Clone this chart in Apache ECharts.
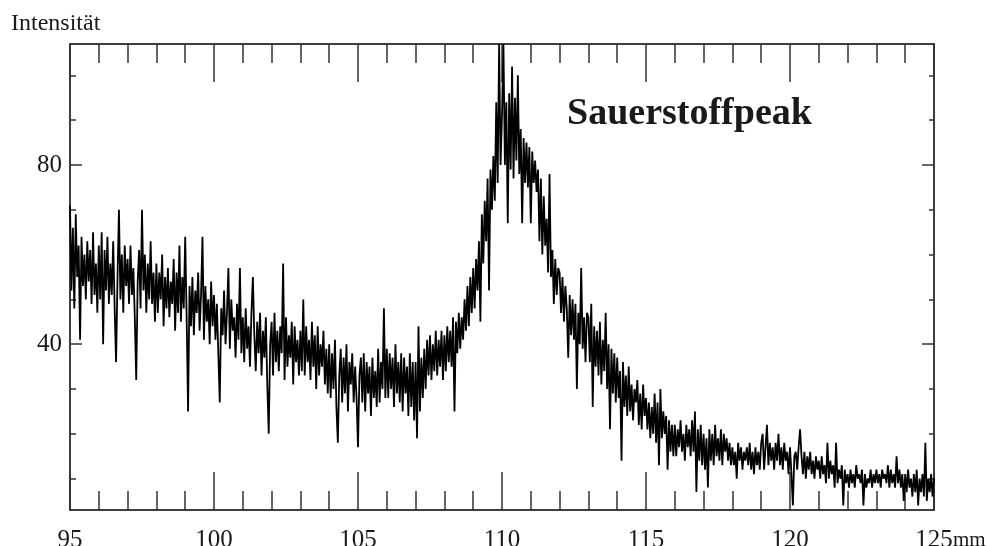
<!DOCTYPE html>
<html style="height: 100%">
<head>
<meta charset="utf-8">
<title>Sauerstoffpeak</title>
</head>
<body style="height: 100%; margin: 0; background: #fff">
<div id="container" style="width: 987px; height: 546px"></div>
<script type="text/javascript" src="https://cdn.jsdelivr.net/npm/echarts@6/dist/echarts.min.js"></script>
<script type="text/javascript">
// Messpunkte: Start bei 95 mm, Schrittweite 0.05 mm (eine Zeile = 1 mm)
var mmStart = 95;
var mmStep = 0.05;
var intensity = [
    71, 52, 66, 48, 69, 55, 62, 41, 64, 53, 60, 50, 63, 54, 61, 49, 65, 51, 58, 47,
    62, 50, 65, 40, 61, 52, 64, 49, 58, 51, 63, 48, 36, 55, 70, 50, 60, 47, 62, 53,
    59, 49, 62, 51, 57, 46, 32, 54, 61, 48, 70, 52, 60, 47, 58, 50, 63, 49, 56, 45,
    58, 47, 56, 50, 60, 44, 55, 48, 57, 46, 54, 49, 59, 43, 56, 47, 62, 45, 55, 48,
    64, 46, 25, 53, 44, 55, 42, 52, 47, 56, 43, 51, 64, 41, 53, 45, 50, 40, 54, 44,
    51, 41, 49, 38, 27, 48, 42, 52, 40, 47, 57, 39, 50, 43, 46, 37, 49, 41, 57, 38,
    46, 36, 48, 39, 44, 35, 47, 55, 42, 34, 45, 38, 47, 33, 43, 37, 46, 31, 20, 40,
    45, 33, 47, 36, 43, 34, 44, 38, 58, 32, 46, 35, 42, 37, 45, 31, 44, 36, 41, 33,
    43, 34, 50, 33, 44, 36, 41, 32, 45, 35, 42, 30, 44, 33, 40, 35, 43, 31, 39, 29,
    40, 28, 38, 30, 41, 26, 18, 33, 39, 27, 37, 29, 40, 25, 36, 31, 38, 27, 35, 28,
    17, 33, 37, 27, 38, 25, 36, 29, 35, 24, 37, 28, 34, 26, 39, 27, 36, 30, 48, 28,
    39, 28, 38, 30, 37, 26, 40, 29, 36, 27, 38, 25, 37, 29, 35, 24, 38, 26, 36, 23,
    36, 19, 44, 25, 37, 28, 39, 30, 41, 33, 42, 32, 40, 34, 43, 33, 41, 35, 43, 32,
    42, 34, 44, 36, 43, 35, 46, 25, 45, 38, 47, 39, 46, 41, 50, 43, 53, 44, 55, 47,
    57, 48, 59, 52, 63, 45, 69, 58, 72, 63, 77, 52, 79, 70, 82, 72, 94, 76, 107, 80,
    91, 107, 80, 94, 67, 96, 79, 102, 77, 95, 81, 100, 78, 88, 67, 86, 76, 85, 75, 84,
    67, 83, 76, 81, 74, 79, 63, 77, 60, 73, 62, 68, 56, 78, 55, 61, 49, 59, 51, 57,
    56, 47, 55, 45, 53, 48, 37, 51, 42, 50, 41, 49, 30, 47, 40, 57, 39, 46, 36, 47,
    46, 36, 49, 26, 44, 35, 43, 33, 45, 31, 41, 34, 47, 30, 40, 21, 39, 29, 38, 27,
    37, 28, 34, 14, 36, 26, 33, 24, 35, 25, 31, 23, 30, 27, 32, 22, 29, 21, 31, 24,
    28, 21, 27, 19, 26, 20, 29, 18, 27, 13, 30, 19, 25, 20, 24, 12, 23, 16, 22, 15,
    22, 15, 21, 17, 23, 16, 20, 14, 22, 17, 21, 15, 23, 16, 25, 7, 21, 14, 22, 13,
    20, 12, 19, 8, 21, 14, 20, 13, 22, 15, 19, 14, 21, 13, 20, 16, 19, 14, 18, 13,
    17, 13, 16, 10, 18, 14, 17, 12, 16, 14, 17, 13, 18, 12, 16, 11, 17, 13, 16, 12,
    18, 20, 12, 17, 22, 13, 18, 14, 17, 12, 18, 14, 20, 13, 17, 12, 18, 14, 16, 11,
    17, 11, 4, 15, 16, 12, 17, 21, 15, 11, 16, 10, 15, 12, 16, 11, 14, 10, 15, 12,
    14, 10, 15, 11, 13, 9, 18, 10, 14, 11, 13, 8, 18, 9, 12, 10, 13, 4, 12, 9,
    11, 8, 12, 9, 11, 8, 13, 10, 11, 9, 12, 4, 11, 8, 10, 9, 12, 8, 11, 9,
    12, 9, 11, 8, 12, 10, 11, 9, 13, 8, 12, 9, 11, 8, 15, 9, 12, 8, 11, 5,
    11, 7, 12, 8, 10, 6, 11, 7, 12, 4, 10, 7, 11, 6, 18, 5, 10, 7, 11, 6,
    10
];
var xLabels = [95, 100, 105, 110, 115, 120, 125];
var yLabels = [40, 80];
var yMinorTicks = [10, 20, 30, 50, 60, 70, 90, 100];

var points = intensity.map(function (v, i) {
    return [+(mmStart + i * mmStep).toFixed(2), v];
});

var ink = '#333';
var font = '"Liberation Serif", "DejaVu Serif", serif';

function xAx(pos, interval, len, labels) {
    return {
        type: 'value', position: pos, min: 95, max: 125, interval: interval,
        axisLine: { show: true, lineStyle: { color: ink, width: 1.5 } },
        axisTick: { show: true, inside: true, length: len, lineStyle: { color: ink, width: 1.5 } },
        axisLabel: labels ? {
            show: true, margin: 18, color: '#1a1a1a', fontFamily: font, fontSize: 25,
            formatter: function (v) { return xLabels.indexOf(v) >= 0 ? String(v) : ''; }
        } : { show: false },
        splitLine: { show: false }
    };
}
function yAx(pos, ticks, len, labels) {
    return {
        type: 'value', position: pos, min: 3, max: 107,
        axisLine: { show: true, lineStyle: { color: ink, width: 1.5 } },
        axisTick: { show: true, inside: true, length: len, customValues: ticks, lineStyle: { color: ink, width: 1.5 } },
        axisLabel: labels ? {
            show: true, margin: 8, color: '#1a1a1a', fontFamily: font, fontSize: 25, customValues: yLabels
        } : { show: false },
        splitLine: { show: false }
    };
}

var myChart = echarts.init(document.getElementById('container'));
var option = {
    animation: false,
    backgroundColor: '#fff',
    grid: { left: 70, right: 53, top: 44, bottom: 36, containLabel: false, outerBoundsMode: 'none' },
    xAxis: [
        xAx('bottom', 1, 19, true),
        xAx('bottom', 5, 38, false),
        xAx('top', 1, 19, false),
        xAx('top', 5, 38, false)
    ],
    yAxis: [
        yAx('left', yMinorTicks, 6, true),
        yAx('left', yLabels, 12, false),
        yAx('right', yMinorTicks, 5, false),
        yAx('right', yLabels, 12, false)
    ],
    series: [{
        type: 'line',
        xAxisIndex: 0,
        yAxisIndex: 0,
        data: points,
        showSymbol: false,
        sampling: null,
        lineStyle: { color: '#000', width: 1.8 },
        z: 1
    }],
    graphic: [
        { type: 'text', left: 11, top: 12, style: { text: 'Intensität', font: '24px ' + font, fill: '#1a1a1a' } },
        { type: 'text', x: 567, y: 114, style: { text: 'Sauerstoffpeak', font: 'bold 38px ' + font, fill: '#1a1a1a', textVerticalAlign: 'middle' } },
        { type: 'text', x: 953, y: 540, style: { text: 'mm', font: '21px ' + font, fill: '#1a1a1a', textVerticalAlign: 'middle' } }
    ]
};
myChart.setOption(option);
</script>
</body>
</html>
